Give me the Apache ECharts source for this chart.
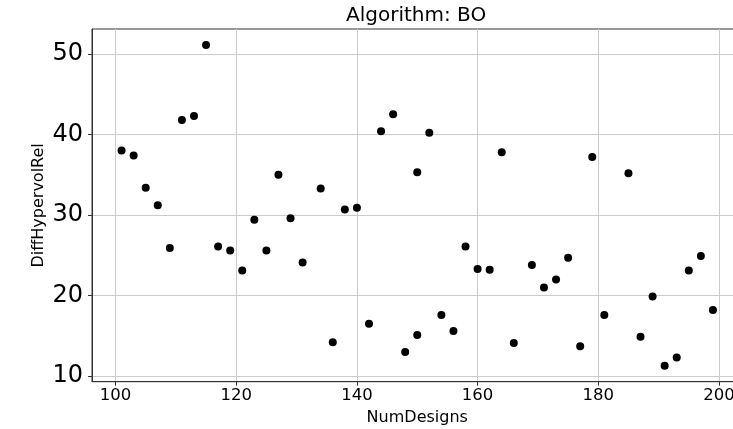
<!DOCTYPE html>
<html>
<head>
<meta charset="utf-8">
<script src="https://cdn.jsdelivr.net/npm/echarts@6/dist/echarts.min.js"></script>
<style>
html,body{margin:0;padding:0;background:#fff;}
#chart{width:733px;height:429px;}
</style>
</head>
<body>
<div id="chart"></div>
<script>
const titleText = 'Algorithm: BO';
const xName = 'NumDesigns';
const yName = 'DiffHypervolRel';
const xTicks = [100, 120, 140, 160, 180, 200];
const yTicks = [10, 20, 30, 40, 50];
const numDesigns = [101,103,105,107,109,111,113,115,117,119,121,123,125,127,129,131,134,136,138,140,142,144,146,148,150,150,152,154,156,158,160,162,164,166,169,171,173,175,177,179,181,185,187,189,191,193,195,197,199];
const diffHypervolRel = [38.0,37.4,33.4,31.2,25.9,41.8,42.3,51.1,26.1,25.6,23.1,29.4,25.6,35.0,29.6,24.1,33.3,14.2,30.7,30.9,16.5,40.4,42.5,13.0,35.3,15.1,40.2,17.6,15.6,26.1,23.3,23.2,37.8,14.1,23.8,21.0,22.0,24.7,13.7,37.2,17.6,35.2,14.9,19.9,11.3,12.3,23.1,24.9,18.2];

function padded(arr) {
  const lo = Math.min(...arr), hi = Math.max(...arr);
  const m = (hi - lo) * 0.05;
  return [lo - m, hi + m];
}
const xr = padded(numDesigns);
const yr = padded(diffHypervolRel);
const points = numDesigns.map((x, i) => [x, diffHypervolRel[i]]);

const FONT = 'DejaVu Sans';
const chart = echarts.init(document.getElementById('chart'), null, {renderer: 'canvas'});
chart.setOption({
  animation: false,
  backgroundColor: '#ffffff',
  title: {
    text: titleText,
    left: 341,
    top: 1,
    textStyle: {fontFamily: FONT, fontSize: 20, fontWeight: 'normal', color: '#000'}
  },
  grid: {
    left: 92, top: 29, width: 650.5, height: 352.7,
    outerBoundsMode: 'none',
    containLabel: false,
    show: true, borderColor: '#333', borderWidth: 1, backgroundColor: 'transparent'
  },
  xAxis: {
    type: 'value',
    min: xr[0], max: xr[1],
    name: xName,
    nameLocation: 'middle',
    nameGap: 26,
    nameTextStyle: {fontFamily: FONT, fontSize: 16, color: '#000', verticalAlign: 'top'},
    axisLine: {show: true, onZero: false, lineStyle: {color: '#333', width: 1}},
    axisTick: {show: true, customValues: xTicks, length: 4, lineStyle: {color: '#333'}},
    axisLabel: {customValues: xTicks, fontFamily: FONT, fontSize: 16.5, color: '#000', margin: 6, hideOverlap: false},
    splitLine: {show: true, lineStyle: {color: '#cccccc', width: 1}}
  },
  yAxis: {
    type: 'value',
    min: yr[0], max: yr[1],
    name: yName,
    nameLocation: 'middle',
    nameGap: 45,
    nameMoveOverlap: false,
    nameRotate: 90,
    nameTextStyle: {fontFamily: FONT, fontSize: 16, color: '#000'},
    axisLine: {show: true, onZero: false, lineStyle: {color: '#333', width: 1}},
    axisTick: {show: true, customValues: yTicks, length: 4, lineStyle: {color: '#333'}},
    axisLabel: {customValues: yTicks, fontFamily: FONT, fontSize: 24, color: '#000', margin: 9},
    splitLine: {show: true, lineStyle: {color: '#cccccc', width: 1}}
  },
  series: [{
    type: 'scatter',
    data: points,
    symbol: 'circle',
    symbolSize: 8,
    itemStyle: {color: '#000', opacity: 1}
  }]
});
</script>
</body>
</html>
